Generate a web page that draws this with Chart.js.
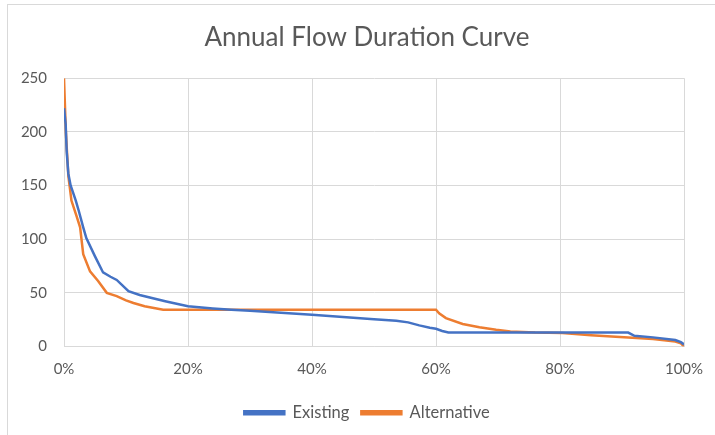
<!DOCTYPE html>
<html>
<head>
<meta charset="utf-8">
<script src="https://cdn.jsdelivr.net/npm/chart.js@4.4.1/dist/chart.umd.min.js"></script>
<style>
  html, body { margin: 0; padding: 0; background: #fff; overflow: hidden; }
  #wrap { position: relative; width: 715px; height: 435px; overflow: hidden; }
  #frame { position: absolute; left: 7px; top: 4px; right: 0; bottom: 0;
           border-left: 1px solid #d9d9d9; border-top: 1px solid #d9d9d9; pointer-events: none; }
  canvas { position: absolute; left: 0; top: 0; }
</style>
</head>
<body>
<div id="wrap">
  <canvas id="c" width="735" height="435"></canvas>
  <div id="frame"></div>
</div>
<script>
// ---- Data ----
const chartTitle = "Annual Flow Duration Curve";
const seriesNames = ["Existing", "Alternative"];

// Exceedance percent and flow for "Existing"
const existingPct = [0, 0.27, 0.43, 0.7, 1.07, 1.9, 2.4, 3.1, 3.6, 5, 6.3, 7.5, 8.5, 10.4, 12.2, 14, 16.5, 20, 24, 27, 30, 35, 40, 45, 50, 53.6, 55.5, 57.3, 59, 60, 61, 62, 70, 80, 91, 92, 95, 98.6, 99.5, 100];
const existingFlow = [222, 207, 182, 161, 150, 136, 126, 111, 101, 84, 69, 65, 62, 51.5, 48, 45.5, 42, 37.5, 35.5, 34.3, 33.3, 31.5, 29.6, 27.5, 25.5, 24, 22.5, 19.7, 17.5, 16.5, 14.5, 13, 13, 13, 13, 10, 8.5, 6, 4, 2];

// Exceedance percent and flow for "Alternative"
const alternativePct = [0, 0.3, 0.7, 1.2, 2, 2.6, 3.1, 4.2, 5.5, 6.9, 8.5, 10, 11.2, 13, 16, 30, 60, 60.5, 61.6, 64.3, 67, 69.7, 72, 76, 80.4, 85, 91, 95, 98.6, 99.5, 100];
const alternativeFlow = [250, 200, 159, 136, 122, 111, 86, 70, 61, 50, 47, 43, 40.5, 37.5, 34.3, 34.3, 34.3, 31, 26.5, 21, 18, 15.6, 14, 13, 12.5, 10.5, 8.4, 7, 4.7, 3, 0];

const xTicks = [0, 20, 40, 60, 80, 100];
const yTicks = [0, 50, 100, 150, 200, 250];

const toPoints = (xs, ys) => xs.map((x, i) => ({ x: x, y: ys[i] }));

const FONT = "Lato, 'Open Sans', sans-serif";
const TXT = "#595959";
const GRID = "#d9d9d9";

new Chart(document.getElementById("c"), {
  type: "line",
  data: {
    datasets: [
      { label: seriesNames[0], data: toPoints(existingPct, existingFlow),
        borderColor: "#4472C4", backgroundColor: "#4472C4", borderWidth: 2.5,
        pointRadius: 0, tension: 0, fill: false },
      { label: seriesNames[1], data: toPoints(alternativePct, alternativeFlow),
        borderColor: "#ED7D31", backgroundColor: "#ED7D31", borderWidth: 2.5,
        pointRadius: 0, tension: 0, fill: false }
    ]
  },
  options: {
    responsive: false,
    animation: false,
    devicePixelRatio: 1,
    layout: { padding: { left: 10, right: 11, top: 0, bottom: 4 } },
    plugins: {
      title: {
        display: true, text: chartTitle, color: TXT,
        font: { family: FONT, size: 26, weight: "normal" },
        padding: { top: 22, bottom: 25 }
      },
      legend: {
        display: true, position: "bottom",
        labels: {
          color: TXT, font: { family: FONT, size: 16.5 },
          boxWidth: 40, boxHeight: 3, padding: 12
        }
      },
      tooltip: { enabled: false }
    },
    scales: {
      x: {
        type: "linear", min: 0, max: 100,
        afterBuildTicks: (s) => { s.ticks = xTicks.map(v => ({ value: v })); },
        afterFit: (s) => { s.paddingLeft = 0; s.paddingRight = 51; },
        ticks: { color: TXT, font: { family: FONT, size: 15 }, padding: 14,
                 maxRotation: 0, callback: (v) => v + "%" },
        grid: { color: GRID, drawTicks: false, lineWidth: 1 },
        border: { color: GRID }
      },
      y: {
        min: 0, max: 250,
        afterBuildTicks: (s) => { s.ticks = yTicks.map(v => ({ value: v })); },
        afterFit: (s) => { s.width = 54; s.paddingTop = 0; s.paddingBottom = 0; },
        ticks: { color: TXT, font: { family: FONT, size: 15 }, padding: 17 },
        grid: { color: GRID, drawTicks: false, lineWidth: 1 },
        border: { color: GRID }
      }
    }
  }
});
</script>
</body>
</html>
